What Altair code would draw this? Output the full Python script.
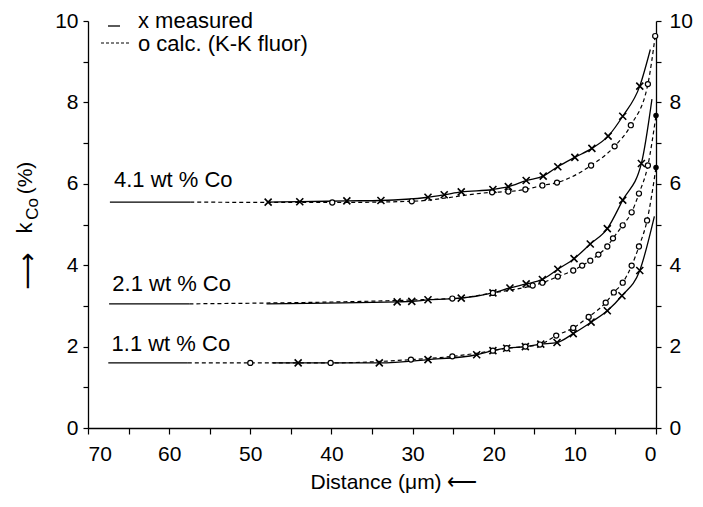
import altair as alt
import pandas as pd

FONT = "Liberation Sans"

# ---------------- data (distance in um, k_Co in %) ----------------
series_names = ["4.1 wt % Co", "2.1 wt % Co", "1.1 wt % Co"]

# measured points (x markers)
d_meas = [
    [47.8, 43.9, 38.1, 33.9, 28.1, 26.1, 24.0, 20.1, 18.2, 16.0, 13.9, 12.1, 10.0, 7.9, 5.9, 4.1, 2.0],
    [31.9, 30.1, 28.1, 24.0, 20.1, 18.0, 16.0, 14.0, 12.1, 10.1, 8.1, 6.0, 4.1, 1.8],
    [44.1, 34.1, 28.1, 22.1, 20.1, 18.4, 16.1, 14.2, 12.2, 10.2, 8.0, 6.0, 4.2, 2.0],
]
k_meas = [
    [5.55, 5.56, 5.58, 5.59, 5.67, 5.73, 5.80, 5.86, 5.93, 6.08, 6.19, 6.42, 6.65, 6.87, 7.17, 7.66, 8.40],
    [3.10, 3.11, 3.15, 3.19, 3.32, 3.44, 3.54, 3.65, 3.90, 4.16, 4.52, 4.90, 5.60, 6.50],
    [1.60, 1.60, 1.68, 1.80, 1.90, 1.96, 2.00, 2.06, 2.10, 2.32, 2.60, 2.88, 3.25, 3.87],
]

# calculated points (o markers)
d_calc = [
    [39.9, 30.1, 20.2, 18.2, 16.1, 14.0, 12.2, 8.0, 5.1, 3.1, 1.0, 0.1],
    [25.1, 20.1, 15.2, 14.0, 12.1, 10.2, 9.1, 8.1, 7.1, 6.0, 5.3, 4.1, 3.0, 2.1, 1.0],
    [50.0, 40.1, 30.2, 25.1, 20.1, 18.4, 16.1, 14.3, 12.3, 10.2, 8.3, 6.2, 5.2, 4.1, 3.0, 2.1, 1.1],
]
k_calc = [
    [5.54, 5.57, 5.79, 5.81, 5.86, 5.96, 6.03, 6.45, 6.92, 7.44, 8.45, 9.63],
    [3.18, 3.32, 3.50, 3.57, 3.72, 3.87, 3.99, 4.11, 4.26, 4.46, 4.66, 4.98, 5.30, 5.76, 6.45],
    [1.60, 1.60, 1.68, 1.76, 1.90, 1.96, 2.00, 2.05, 2.27, 2.46, 2.73, 3.08, 3.33, 3.57, 3.99, 4.46, 5.10],
]

# bulk plateau and curve ends
bulk_k = [5.55, 3.05, 1.60]
bulk_from = [67.3, 67.4, 67.5]
bulk_to = [57.4, 57.5, 57.7]
meas_line_from = [47.8, 48.0, 47.2]
meas_end_d = [0.7, 0.5, 0.2]
meas_end_k = [9.30, 8.08, 5.20]
calc_end_d = [None, 0.0, 0.0]
calc_end_k = [None, 7.68, 6.40]

# labels of the three alloys (position in data units)
label_d = [66.8, 67.0, 67.1]
label_k = [6.10, 3.55, 2.06]

tick_values = list(range(0, 11))
x_tick_values = list(range(0, 75, 5))

# ---------------- tables ----------------
solid_rows, dash_rows, xm_rows, om_rows, dot_rows = [], [], [], [], []
for i, name in enumerate(series_names):
    seg = f"bulk{i}"
    solid_rows += [{"d": bulk_from[i], "k": bulk_k[i], "seg": seg},
                   {"d": bulk_to[i], "k": bulk_k[i], "seg": seg}]
    seg = f"meas{i}"
    if meas_line_from[i] != d_meas[i][0]:
        solid_rows.append({"d": meas_line_from[i], "k": bulk_k[i], "seg": seg})
    for d, k in zip(d_meas[i], k_meas[i]):
        solid_rows.append({"d": d, "k": k, "seg": seg})
        xm_rows.append({"d": d, "k": k})
    solid_rows.append({"d": meas_end_d[i], "k": meas_end_k[i], "seg": seg})

    seg = f"calc{i}"
    dash_rows.append({"d": bulk_to[i], "k": bulk_k[i], "seg": seg})
    for d, k in zip(d_calc[i], k_calc[i]):
        dash_rows.append({"d": d, "k": k, "seg": seg})
        om_rows.append({"d": d, "k": k})
    if calc_end_d[i] is not None:
        dash_rows.append({"d": calc_end_d[i], "k": calc_end_k[i], "seg": seg})
        dot_rows.append({"d": calc_end_d[i], "k": calc_end_k[i]})

solid_df = pd.DataFrame(solid_rows)
dash_df = pd.DataFrame(dash_rows)
xm_df = pd.DataFrame(xm_rows)
om_df = pd.DataFrame(om_rows)
dot_df = pd.DataFrame(dot_rows)
lab_df = pd.DataFrame({"d": label_d, "k": label_k, "t": series_names})

xscale = alt.Scale(domain=[0, 70], reverse=True, nice=False)
yscale = alt.Scale(domain=[0, 10], nice=False)

x_axis = alt.Axis(values=x_tick_values, labelExpr="datum.value % 10 == 0 ? datum.label : ''",
                  title="Distance (\u03bcm) \u27f5", tickSize=6, labelPadding=9,
                  titleX=222, titleY=54, titleAlign="left", titleBaseline="middle",
                  titleFontSize=21, titleFontWeight="normal")
y_left = alt.Axis(values=tick_values, labelExpr="datum.value % 2 == 0 ? datum.label : ''",
                  title=None, tickSize=5, labelPadding=5, orient="left")
y_right = alt.Axis(values=tick_values, labelExpr="datum.value % 2 == 0 ? datum.label : ''",
                   title=None, tickSize=5, labelPadding=8, orient="right")

X = alt.X("d:Q", scale=xscale, axis=x_axis)
Xn = alt.X("d:Q", scale=xscale)
Yn = alt.Y("k:Q", scale=yscale, axis=None)

solid = alt.Chart(solid_df).mark_line(color="black", strokeWidth=1.3, interpolate="monotone").encode(
    x=X, y=alt.Y("k:Q", scale=yscale, axis=y_left), detail="seg:N")
dashed = alt.Chart(dash_df).mark_line(color="black", strokeWidth=1.2, strokeDash=[4, 3],
                                      interpolate="monotone").encode(
    x=Xn, y=alt.Y("k:Q", scale=yscale, axis=y_right), detail="seg:N")
xmarks = alt.Chart(xm_df).mark_point(shape="M-1,-1L1,1M-1,1L1,-1", size=49, color="black",
                                     strokeWidth=1.6, opacity=1).encode(x=Xn, y=Yn)
omarks = alt.Chart(om_df).mark_point(shape="circle", size=26, filled=True, fill="white",
                                     stroke="black", strokeWidth=1.2, opacity=1).encode(x=Xn, y=Yn)
dots = alt.Chart(dot_df).mark_point(shape="circle", size=30, filled=True, color="black",
                                    opacity=1).encode(x=Xn, y=Yn)
labels = alt.Chart(lab_df).mark_text(align="left", baseline="middle", font=FONT, fontSize=22,
                                     color="black").encode(x=Xn, y=Yn, text="t:N")

one = pd.DataFrame({"a": [0]})

def txt(s, x, y, size=22, angle=0, align="left", font=FONT):
    return alt.Chart(one).mark_text(text=s, align=align, baseline="middle", font=font,
                                    fontSize=size, angle=angle, color="black").encode(
        x=alt.value(x), y=alt.value(y))

legend = [
    alt.Chart(one).mark_rule(color="black", strokeWidth=1.3).encode(
        x=alt.value(20), x2=alt.value(32), y=alt.value(5)),
    txt("x measured", 50, 0),
    alt.Chart(one).mark_rule(color="black", strokeWidth=1.1, strokeDash=[3, 2]).encode(
        x=alt.value(13), x2=alt.value(41), y=alt.value(22)),
    txt("o calc. (K-K fluor)", 50, 23),
]

ytitle = [
    txt("k", -63, 207, size=22, angle=270, align="center"),
    txt("Co", -55, 188, size=17, angle=270, align="center"),
    txt("(%)", -62, 157, size=21, angle=270, align="center"),
    txt("\u27f6", -60, 250, size=26, angle=270, align="center", font="DejaVu Sans"),
]

chart = alt.layer(solid, dashed, xmarks, omarks, dots, labels, *legend, *ytitle).resolve_axis(
    y="independent"
).properties(
    width=568, height=407,
    padding={"left": 80, "top": 13, "right": 39, "bottom": 68},
    autosize=alt.AutoSizeParams(type="none"),
).configure_view(strokeWidth=0).configure_axis(
    grid=False, domainColor="black", tickColor="black", labelColor="black", titleColor="black",
    labelFont=FONT, titleFont=FONT, labelFontSize=21, domainWidth=1.3, tickWidth=1.2,
)

chart.save("out.html", embed_options={"renderer": "svg", "actions": False})
